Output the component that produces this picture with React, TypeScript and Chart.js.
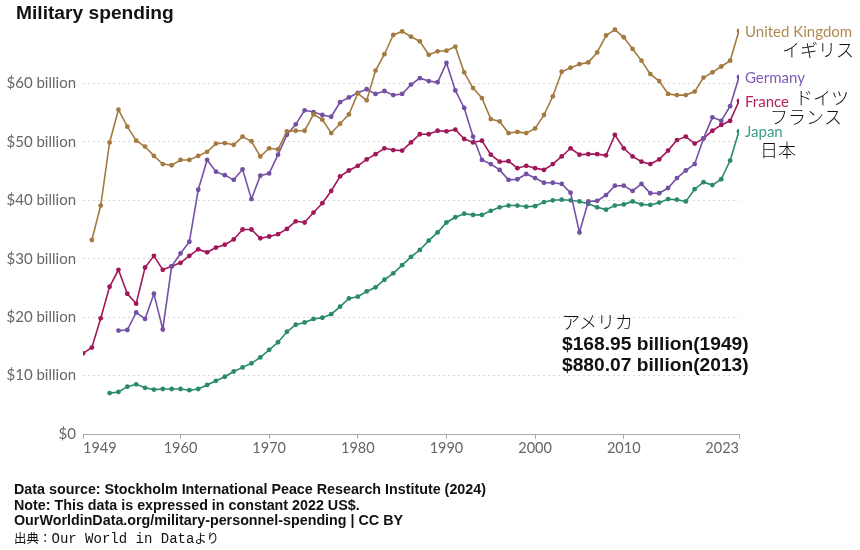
import React, { useEffect, useRef } from "react";
import { Chart, registerables } from "chart.js";

Chart.register(...registerables);

const years: number[] = Array.from({ length: 75 }, (_, i) => 1949 + i);

// UK starts 1950
const ukStart = 1950;
const ukValues: number[] = [
  33.2, 39.1, 49.9, 55.5, 52.6, 50.2, 49.2, 47.6, 46.2, 46.0,
  46.9, 46.9, 47.6, 48.3, 49.7, 49.8, 49.5, 50.9, 50.1, 47.5,
  48.9, 48.7, 51.8, 51.9, 51.9, 54.7, 53.8, 51.5, 53.1, 54.7,
  58.3, 57.1, 62.2, 65.0, 68.3, 68.9, 68.0, 67.2, 64.9, 65.5,
  65.6, 66.3, 61.9, 59.2, 57.5, 53.9, 53.5, 51.5, 51.7, 51.5,
  52.3, 54.6, 57.8, 62.0, 62.7, 63.3, 63.6, 65.3, 68.2, 69.2,
  67.9, 65.9, 63.9, 61.6, 60.4, 58.2, 58.0, 58.0, 58.6, 61.0,
  61.9, 62.9, 63.9, 69.0,
];

// Germany starts 1953
const deStart = 1953;
const deValues: number[] = [
  17.7, 17.8, 20.8, 19.7, 24.0, 17.9, 28.7, 30.9, 32.9, 41.8,
  46.9, 44.9, 44.3, 43.5, 45.3, 40.2, 44.2, 44.6, 47.8, 51.2,
  53.0, 55.4, 55.1, 54.6, 54.3, 56.8, 57.6, 58.4, 59.0, 58.2,
  58.7, 58.0, 58.2, 59.8, 60.9, 60.4, 60.2, 63.5, 58.8, 55.8,
  50.9, 46.9, 46.2, 45.2, 43.5, 43.6, 44.5, 43.8, 43.0, 43.0,
  42.8, 41.3, 34.5, 39.8, 39.9, 40.9, 42.5, 42.5, 41.6, 42.8,
  41.2, 41.2, 42.1, 43.8, 45.1, 46.2, 50.6, 54.2, 53.6, 56.1,
  61.1,
];

// France starts 1949
const frStart = 1949;
const frValues: number[] = [
  13.8, 14.8, 19.8, 25.2, 28.1, 24.0, 22.3, 28.5, 30.5, 28.1,
  28.7, 29.3, 30.5, 31.6, 31.1, 31.9, 32.4, 33.3, 35.0, 35.0,
  33.5, 33.8, 34.2, 35.1, 36.4, 36.2, 37.9, 39.5, 41.6, 44.1,
  45.1, 45.9, 47.0, 47.9, 48.9, 48.6, 48.5, 49.9, 51.3, 51.3,
  51.9, 51.8, 52.1, 50.5, 49.9, 50.2, 47.8, 46.6, 46.7, 45.5,
  45.9, 45.5, 45.2, 46.2, 47.5, 48.9, 47.8, 47.9, 47.9, 47.7,
  51.2, 48.9, 47.5, 46.6, 46.2, 47.0, 48.5, 50.3, 50.9, 49.7,
  50.6, 51.9, 52.9, 53.6, 57.0,
];

// Japan starts 1952
const jpStart = 1952;
const jpValues: number[] = [
  7.0, 7.2, 8.1, 8.5, 7.9, 7.6, 7.7, 7.7, 7.7, 7.5,
  7.7, 8.4, 9.1, 9.8, 10.7, 11.4, 12.1, 13.1, 14.4, 15.7,
  17.5, 18.7, 19.1, 19.7, 19.9, 20.5, 21.8, 23.2, 23.5, 24.4,
  25.1, 26.4, 27.5, 28.9, 30.3, 31.5, 33.1, 34.5, 36.2, 37.1,
  37.7, 37.5, 37.5, 38.2, 38.8, 39.1, 39.1, 38.9, 39.0, 39.7,
  40.0, 40.1, 40.0, 39.8, 39.4, 38.8, 38.4, 39.1, 39.3, 39.8,
  39.3, 39.2, 39.6, 40.2, 40.1, 39.8, 41.9, 43.1, 42.6, 43.6,
  46.8, 51.8,
];

const xTicks: number[] = [1949, 1960, 1970, 1980, 1990, 2000, 2010, 2023];
const yTicks: number[] = [0, 10, 20, 30, 40, 50, 60];

const seriesNames: string[] = ["United Kingdom", "Germany", "France", "Japan"];
const seriesJa: string[] = ["イギリス", "ドイツ", "フランス", "日本"];
const seriesColors: string[] = ["#a47a40", "#7450a4", "#a0175a", "#2a8a6c"];
const labelColors: string[] = ["#b08a52", "#7d5cb3", "#b0245f", "#3c9f85"];
const jaOffsets: { dx: number; dy: number }[] = [
  { dx: 43, dy: 19 },
  { dx: 56, dy: 21 },
  { dx: 31, dy: 16 },
  { dx: 21, dy: 19 },
];

function toPoints(start: number, vals: number[]) {
  return vals.map((v, i) => ({ x: start + i, y: v }));
}

const endLabels = {
  id: "endLabels",
  afterDatasetsDraw(chart: any) {
    const ctx = chart.ctx;
    chart.data.datasets.forEach((ds: any, i: number) => {
      const meta = chart.getDatasetMeta(i);
      const pt = meta.data[meta.data.length - 1];
      if (!pt) return;
      ctx.save();
      ctx.textBaseline = "middle";
      ctx.textAlign = "left";
      ctx.font = "15px Lato";
      ctx.fillStyle = labelColors[i];
      ctx.fillText(seriesNames[i], pt.x + 6, pt.y + 1);
      ctx.font = "300 18px 'Noto Sans CJK JP'";
      ctx.fillStyle = "#111";
      ctx.fillText(seriesJa[i], pt.x + jaOffsets[i].dx, pt.y + jaOffsets[i].dy);
      ctx.restore();
    });
  },
};

export default function App() {
  const canvasRef = useRef<HTMLCanvasElement | null>(null);

  useEffect(() => {
    document.body.style.margin = "0";
    Chart.defaults.font.family = "Lato";
    const starts = [ukStart, deStart, frStart, jpStart];
    const vals = [ukValues, deValues, frValues, jpValues];
    const chart = new Chart(canvasRef.current as HTMLCanvasElement, {
      type: "line",
      data: {
        datasets: vals.map((v, i) => ({
          label: seriesNames[i],
          data: toPoints(starts[i], v),
          borderColor: seriesColors[i],
          backgroundColor: seriesColors[i],
          pointBackgroundColor: seriesColors[i],
          pointBorderWidth: 0,
          pointRadius: 2.4,
          borderWidth: 1.6,
          tension: 0,
        })),
      },
      options: {
        animation: false,
        responsive: true,
        maintainAspectRatio: false,
        layout: { padding: { top: 25, right: 121, left: 0, bottom: 0 } },
        plugins: { legend: { display: false }, tooltip: { enabled: false } },
        scales: {
          x: {
            type: "linear",
            min: years[0],
            max: years[years.length - 1],
            afterBuildTicks: (s: any) => {
              s.ticks = xTicks.map((v) => ({ value: v }));
            },
            afterFit: (s: any) => {
              s.height = 116;
            },
            ticks: {
              align: "inner",
              autoSkip: false,
              maxRotation: 0,
              color: "#666",
              font: { family: "Lato", size: 14.5 },
              padding: 1,
              callback: (v: any) => String(v),
            },
            grid: { drawOnChartArea: false, drawTicks: true, tickLength: 5, color: "#aaa" },
            border: { display: true, color: "#aaa", width: 1 },
          },
          y: {
            min: 0,
            max: 70,
            afterBuildTicks: (s: any) => {
              s.ticks = yTicks.map((v) => ({ value: v }));
            },
            afterFit: (s: any) => {
              s.width = 83;
            },
            ticks: {
              color: "#666",
              font: { family: "Lato", size: 15 },
              padding: 7,
              callback: (v: any) => (v === 0 ? "$0" : `$${v} billion`),
            },
            grid: {
              drawTicks: false,
              color: (c: any) => (c.tick && c.tick.value === 0 ? "rgba(0,0,0,0)" : "#d8d8d8"),
              lineWidth: 1,
            },
            border: { display: false, dash: [2, 3] },
          },
        },
      } as any,
      plugins: [endLabels],
    });
    return () => chart.destroy();
  }, []);

  const boldLine: React.CSSProperties = {
    position: "absolute",
    left: 14,
    fontFamily: "'Liberation Sans', Arial, sans-serif",
    fontWeight: "bold",
    fontSize: 14.3,
    lineHeight: "16px",
    color: "#111",
    whiteSpace: "nowrap",
  };

  return (
    <div style={{ position: "absolute", left: 0, top: 0, width: 860, height: 550, background: "#fff" }}>
      <canvas ref={canvasRef} />
      <div
        style={{
          position: "absolute",
          left: 16,
          top: 1,
          fontFamily: "'Liberation Sans', Arial, sans-serif",
          fontWeight: "bold",
          fontSize: 19.2,
          lineHeight: "24px",
          color: "#111",
          whiteSpace: "nowrap",
        }}
      >
        Military spending
      </div>
      <div
        style={{
          position: "absolute",
          left: 562,
          top: 309,
          fontFamily: "'Noto Sans CJK JP', sans-serif",
          fontWeight: 300,
          fontSize: 18,
          lineHeight: "24px",
          color: "#111",
          whiteSpace: "nowrap",
        }}
      >
        アメリカ
      </div>
      <div
        style={{
          position: "absolute",
          left: 562,
          top: 333,
          fontFamily: "'Liberation Sans', Arial, sans-serif",
          fontWeight: "bold",
          fontSize: 19.2,
          lineHeight: "21px",
          color: "#111",
          whiteSpace: "nowrap",
        }}
      >
        $168.95 billion(1949)
        <br />
        $880.07 billion(2013)
      </div>
      <div style={{ ...boldLine, top: 481 }}>Data source: Stockholm International Peace Research Institute (2024)</div>
      <div style={{ ...boldLine, top: 497 }}>Note: This data is expressed in constant 2022 US$.</div>
      <div style={{ ...boldLine, top: 512 }}>OurWorldinData.org/military-personnel-spending | CC BY</div>
      <div
        style={{
          position: "absolute",
          left: 14,
          top: 529,
          lineHeight: "18px",
          color: "#111",
          whiteSpace: "nowrap",
        }}
      >
        <span style={{ fontFamily: "'Noto Sans CJK JP', sans-serif", fontSize: 12.5 }}>出典：</span>
        <span style={{ fontFamily: "'Liberation Mono', monospace", fontSize: 14 }}>Our World in Data</span>
        <span style={{ fontFamily: "'Noto Sans CJK JP', sans-serif", fontSize: 12.5 }}>より</span>
      </div>
    </div>
  );
}
